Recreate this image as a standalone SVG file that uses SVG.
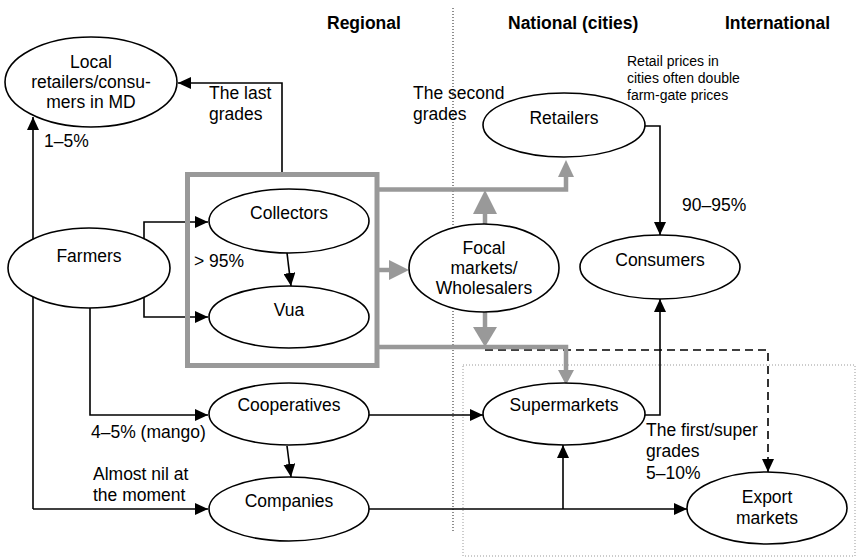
<svg xmlns="http://www.w3.org/2000/svg" width="857" height="558" viewBox="0 0 857 558">
<defs>
<marker id="ah" viewBox="0 0 13 12" refX="13" refY="6" markerWidth="13" markerHeight="12" markerUnits="userSpaceOnUse" orient="auto"><path d="M0,0 L13,6 L0,12 z" fill="#000"/></marker>
<style>
text{font-family:"Liberation Sans",Arial,sans-serif;font-size:17.5px;fill:#000}
.h{font-weight:bold}
.s{font-size:14px}
.c{text-anchor:middle}
.n{fill:#fff;stroke:#000;stroke-width:1.6}
.l{fill:none;stroke:#000;stroke-width:1.6}
.a{marker-end:url(#ah)}
.d{stroke-dasharray:8,5}
.g{fill:none;stroke:#999;stroke-width:4.5}
.gh{fill:#999}
.dot{fill:none;stroke:#444;stroke-width:1.2;stroke-dasharray:1,2}
.dot2{fill:none;stroke:#999;stroke-width:1;stroke-dasharray:1,2}
</style>
</defs>
<rect width="857" height="558" fill="#fff"/>
<g id="regions">
<line class="dot" x1="453" y1="8" x2="453" y2="533"/>
<rect class="dot2" x="463" y="365" width="392" height="191"/>
<text class="h" x="327" y="29">Regional</text>
<text class="h" x="508" y="29">National (cities)</text>
<text class="h" x="725" y="29">International</text>
</g>
<g id="connectors">
<path class="l a" d="M33,509 V117"/>
<path class="l a" d="M33,509 H208"/>
<path class="l a" d="M90,308 V415 H208"/>
<path class="l a" d="M144,270 V222 H208"/>
<path class="l a" d="M144,270 V317 H208"/>
<path class="l a" d="M287,253 L291,286"/>
<path class="l a" d="M287,446 L291,477"/>
<path class="l a" d="M282,173 V83 H178"/>
<path class="l a" d="M645,126 H660 V235"/>
<path class="l a" d="M645,415 H660 V299"/>
<path class="l a" d="M369,415 H483"/>
<path class="l a" d="M369,509 H687"/>
<path class="l a" d="M563,509 V445"/>
<path class="l a d" d="M485,350 H768 V472"/>
<path class="g" d="M379,189.5 H566 V177"/>
<polygon class="gh" points="558,177 574,177 566,160"/>
<path class="g" d="M379,347 H566 V370"/>
<polygon class="gh" points="558,370 574,370 566,385"/>
<path class="g" d="M485,224 V213" stroke-width="5"/>
<polygon class="gh" points="473,214 497,214 485,190"/>
<path class="g" d="M485,312 V328" stroke-width="5"/>
<polygon class="gh" points="473,327 497,327 485,347"/>
<path class="g" d="M379,270 H390" stroke-width="5"/>
<polygon class="gh" points="389,260 389,280 409,270"/>
</g>
<g id="box">
<rect x="187.5" y="174.5" width="189.5" height="191" fill="none" stroke="#999" stroke-width="5"/>
</g>
<g id="local">
<ellipse class="n" cx="91" cy="82" rx="86" ry="45"/>
<text class="c" x="91" y="68">Local</text>
<text class="c" x="91" y="88">retailers/consu-</text>
<text class="c" x="91" y="108">mers in MD</text>
</g>
<g id="farmers">
<ellipse class="n" cx="89" cy="268" rx="81" ry="40"/>
<text class="c" x="89" y="262">Farmers</text>
</g>
<g id="collectors">
<ellipse class="n" cx="289" cy="221" rx="80" ry="32"/>
<text class="c" x="289" y="219">Collectors</text>
</g>
<g id="vua">
<ellipse class="n" cx="289" cy="317" rx="80" ry="31"/>
<text class="c" x="289" y="316">Vua</text>
</g>
<g id="focal">
<ellipse class="n" cx="484" cy="268" rx="75" ry="44"/>
<text class="c" x="484" y="254">Focal</text>
<text class="c" x="484" y="274">markets/</text>
<text class="c" x="484" y="294">Wholesalers</text>
</g>
<g id="retailers">
<ellipse class="n" cx="564" cy="125" rx="81" ry="32"/>
<text class="c" x="564" y="124">Retailers</text>
</g>
<g id="consumers">
<ellipse class="n" cx="660" cy="267" rx="80" ry="32"/>
<text class="c" x="660" y="266">Consumers</text>
</g>
<g id="cooperatives">
<ellipse class="n" cx="289" cy="414" rx="80" ry="31"/>
<text class="c" x="289" y="411">Cooperatives</text>
</g>
<g id="companies">
<ellipse class="n" cx="289" cy="509" rx="80" ry="32"/>
<text class="c" x="289" y="507">Companies</text>
</g>
<g id="supermarkets">
<ellipse class="n" cx="564" cy="414" rx="81" ry="31"/>
<text class="c" x="564" y="411">Supermarkets</text>
</g>
<g id="export">
<ellipse class="n" cx="767" cy="508" rx="80" ry="36"/>
<text class="c" x="767" y="503">Export</text>
<text class="c" x="767" y="524">markets</text>
</g>
<g id="labels">
<text x="209" y="99">The last</text>
<text x="209" y="120">grades</text>
<text x="44" y="147">1–5%</text>
<text x="413" y="99">The second</text>
<text x="413" y="120">grades</text>
<text class="s" x="627" y="66">Retail prices in</text>
<text class="s" x="627" y="83">cities often double</text>
<text class="s" x="627" y="100">farm-gate prices</text>
<text x="682" y="211">90–95%</text>
<text x="194" y="267">&gt; 95%</text>
<text x="91" y="438">4–5% (mango)</text>
<text x="93" y="480">Almost nil at</text>
<text x="93" y="501">the moment</text>
<text x="646" y="436">The first/super</text>
<text x="646" y="457">grades</text>
<text x="646" y="479">5–10%</text>
</g>
</svg>
